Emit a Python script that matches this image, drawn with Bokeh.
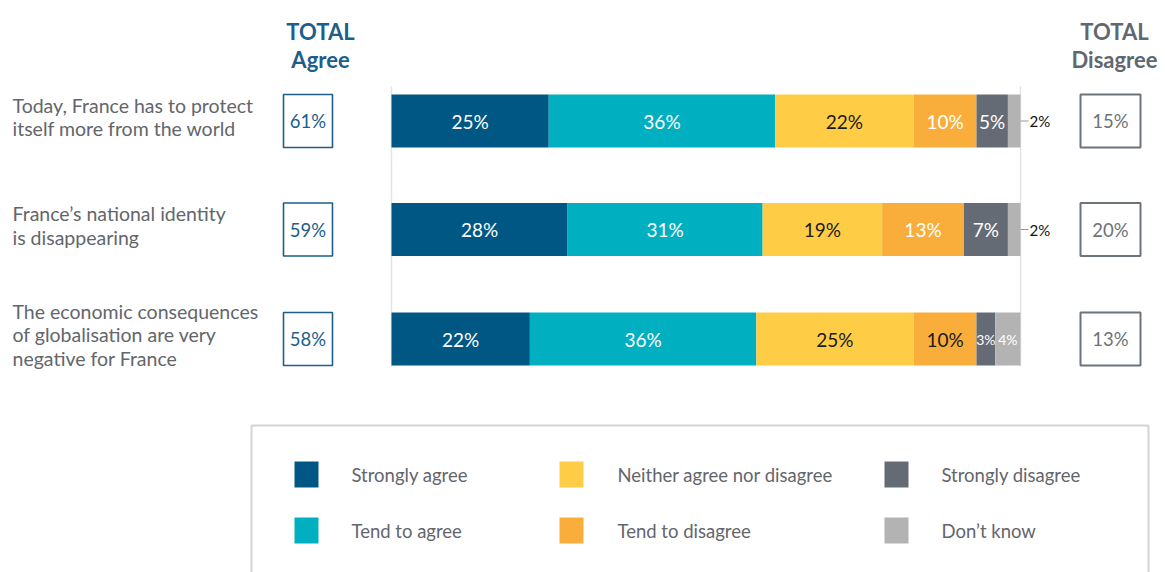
from bokeh.plotting import figure
from bokeh.models import Range1d, ColumnDataSource
from bokeh.core.properties import value
from bokeh.embed import file_html
from bokeh.resources import INLINE

# ---------------- data ----------------
questions = [
    "Today, France has to protect\nitself more from the world",
    "France\u2019s national identity\nis disappearing",
    "The economic consequences\nof globalisation are very\nnegative for France",
]
categories = ["Strongly agree", "Tend to agree", "Neither agree nor disagree",
              "Tend to disagree", "Strongly disagree", "Don\u2019t know"]
strongly_agree = [25, 28, 22]
tend_to_agree = [36, 31, 36]
neither = [22, 19, 25]
tend_to_disagree = [10, 13, 10]
strongly_disagree = [5, 7, 3]
dont_know = [2, 2, 4]
total_agree = [61, 59, 58]
total_disagree = [15, 20, 13]

series = [strongly_agree, tend_to_agree, neither, tend_to_disagree, strongly_disagree, dont_know]
colors = ["#005784", "#00b0c1", "#ffcd45", "#f9ae3c", "#656b74", "#b3b3b3"]
label_colors = [
    ["white", "white", "white"],
    ["white", "white", "white"],
    ["#1a1a1a", "#1a1a1a", "#1a1a1a"],
    ["white", "white", "#1a1a1a"],
    ["white", "white", "white"],
    ["#1a1a1a", "#1a1a1a", "white"],
]

# ---------------- layout ----------------
W, H = 1165, 572
OFF = 0            # page offset of the figure
PX = 6.29          # pixels per percent
X0 = 391           # page x of 0%
FONT = "Lato"
GREY_TXT = "#63666b"
BLUE_TXT = "#1d5e8a"


def dx(sx):
    return (sx - X0) / PX


def dy(sy):
    return sy - OFF


row_y = [dy(120.5), dy(229), dy(338.5)]
BAR_H = 53

p = figure(width=W, height=H, output_backend="svg", toolbar_location=None,
           x_range=Range1d(dx(OFF), dx(OFF + W)), y_range=Range1d(H, 0),
           min_border=0, outline_line_color=None)
p.axis.visible = False
p.grid.visible = False
p.background_fill_color = "white"

# light vertical guides at 0% and 100%
p.segment(x0=[0, 100], y0=[dy(86), dy(86)], x1=[0, 100], y1=[dy(366), dy(366)],
          line_color="#e3e3e3", line_width=1.5)

# stacked bars
for k, s in enumerate(series):
    lefts, rights = [], []
    for i in range(len(s)):
        left = sum(series[j][i] for j in range(k))
        lefts.append(left)
        rights.append(left + s[i])
    src = ColumnDataSource(dict(y=row_y, left=lefts, right=rights))
    p.hbar(y="y", left="left", right="right", height=BAR_H, source=src,
           fill_color=colors[k], line_color=None)
    for i in range(len(s)):
        if k == 5 and s[i] <= 2:
            # outside label with leader
            p.segment(x0=[100], y0=[row_y[i]], x1=[dx(1028)], y1=[row_y[i]],
                      line_color="#999999", line_width=1)
            p.text(x=[dx(1029)], y=[row_y[i]], text=[f"{s[i]}%"],
                   text_font=value(FONT), text_font_size="15px",
                   text_color="#111111", text_align="left", text_baseline="middle")
        else:
            fs = "14px" if s[i] <= 4 else "19px"
            p.text(x=[lefts[i] + s[i] / 2], y=[row_y[i]], text=[f"{s[i]}%"],
                   text_font=value(FONT), text_font_size=fs,
                   text_color=label_colors[k][i], text_align="center",
                   text_baseline="middle")

# question labels
p.text(x=[dx(12)] * 3, y=[y - 4 for y in row_y], text=questions,
       text_font=value(FONT), text_font_size="19.5px", text_color=GREY_TXT,
       text_align="left", text_baseline="middle", text_line_height=1.04)

# headers
p.text(x=[dx(320)], y=[dy(45)], text=["TOTAL\nAgree"], text_font=value(FONT),
       text_font_size="22px", text_font_style="bold", text_color=BLUE_TXT,
       text_align="center", text_baseline="middle", text_line_height=1.05)
p.text(x=[dx(1114)], y=[dy(45)], text=["TOTAL\nDisagree"], text_font=value(FONT),
       text_font_size="22px", text_font_style="bold", text_color="#5f6870",
       text_align="center", text_baseline="middle", text_line_height=1.05)

# total boxes
p.rect(x=[dx(307.5)] * 3, y=row_y, width=49, width_units="screen",
       height=BAR_H, fill_color="white", line_color=BLUE_TXT, line_width=1.6)
p.text(x=[dx(307.5)] * 3, y=row_y, text=[f"{v}%" for v in total_agree],
       text_font=value(FONT), text_font_size="18.5px", text_color=BLUE_TXT,
       text_align="center", text_baseline="middle")
p.rect(x=[dx(1110)] * 3, y=row_y, width=60, width_units="screen",
       height=BAR_H, fill_color="white", line_color="#6d737a", line_width=2)
p.text(x=[dx(1110)] * 3, y=row_y, text=[f"{v}%" for v in total_disagree],
       text_font=value(FONT), text_font_size="18.5px", text_color="#6d737a",
       text_align="center", text_baseline="middle")

# legend box
p.line(x=[dx(251), dx(251), dx(1148), dx(1148)],
       y=[H, dy(425), dy(425), H], line_color="#d4d4d4", line_width=2)

leg_sq_x = [306, 306, 571, 571, 896, 896]
leg_tx_x = [351, 351, 617, 617, 941, 941]
leg_y = [dy(474), dy(530)] * 3
p.rect(x=[dx(v) for v in leg_sq_x], y=leg_y, width=24, width_units="screen",
       height=26, fill_color=colors, line_color=None)
p.text(x=[dx(v) for v in leg_tx_x], y=leg_y, text=categories,
       text_font=value(FONT), text_font_size="18.5px", text_color=GREY_TXT,
       text_align="left", text_baseline="middle")

open("out.html", "w").write(file_html(p, INLINE))
